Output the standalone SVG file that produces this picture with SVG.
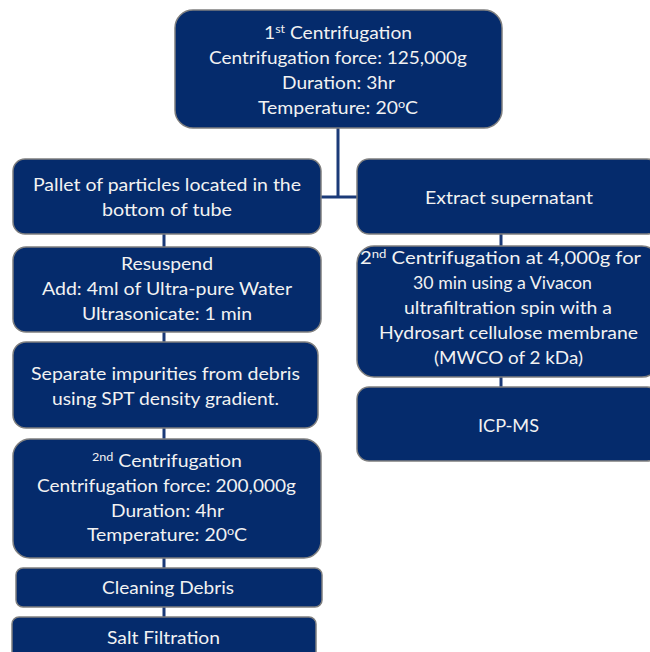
<svg xmlns="http://www.w3.org/2000/svg" width="650" height="652" viewBox="0 0 650 652">
<style>
.box{fill:#052B6C;stroke:#7F7F7F;stroke-width:1.5}
.t{font-family:Lato,"Liberation Sans",sans-serif;font-size:17px;fill:#F2F2F2;text-anchor:middle}
.sup{font-size:11px}
.c{stroke:#1B3A78;stroke-width:3;fill:none}
</style>
<rect width="650" height="652" fill="#FFFFFF"/>
<g id="connectors">
<path class="c" d="M338,128 V197 M321,197 H357"/>
<path class="c" d="M164,234 V247 M164,332 V342 M164,428 V439 M164,558 V568 M164,607 V617"/>
<path class="c" d="M501,234 V246 M501,377 V387"/>
</g>
<g id="n1">
<rect class="box" x="175" y="10" width="327" height="118" rx="18"/>
<text class="t" x="338" y="39" textLength="148" lengthAdjust="spacingAndGlyphs">1<tspan class="sup" dy="-6">st</tspan><tspan dy="6"> Centrifugation</tspan></text>
<text class="t" x="338" y="64" textLength="258" lengthAdjust="spacingAndGlyphs">Centrifugation force: 125,000g</text>
<text class="t" x="338.5" y="89" textLength="113" lengthAdjust="spacingAndGlyphs">Duration: 3hr</text>
<text class="t" x="338" y="114" textLength="160" lengthAdjust="spacingAndGlyphs">Temperature: 20<tspan class="sup" dy="-6">o</tspan><tspan dy="6">C</tspan></text>
</g>
<g id="n2">
<rect class="box" x="13" y="159" width="308" height="75" rx="12"/>
<text class="t" x="167" y="191" textLength="268" lengthAdjust="spacingAndGlyphs">Pallet of particles located in the</text>
<text class="t" x="167" y="216" textLength="130" lengthAdjust="spacingAndGlyphs">bottom of tube</text>
</g>
<g id="n3">
<rect class="box" x="13" y="247" width="308" height="85" rx="13"/>
<text class="t" x="167" y="270" textLength="92" lengthAdjust="spacingAndGlyphs">Resuspend</text>
<text class="t" x="167" y="295" textLength="250" lengthAdjust="spacingAndGlyphs">Add: 4ml of Ultra-pure Water</text>
<text class="t" x="167" y="320" textLength="170" lengthAdjust="spacingAndGlyphs">Ultrasonicate: 1 min</text>
</g>
<g id="n4">
<rect class="box" x="13" y="342" width="305" height="86" rx="13"/>
<text class="t" x="165.5" y="380" textLength="269" lengthAdjust="spacingAndGlyphs">Separate impurities from debris</text>
<text class="t" x="165.5" y="405" textLength="227" lengthAdjust="spacingAndGlyphs">using SPT density gradient.</text>
</g>
<g id="n5">
<rect class="box" x="13" y="439" width="308" height="119" rx="17"/>
<text class="t" x="167" y="467" textLength="150" lengthAdjust="spacingAndGlyphs"><tspan class="sup" dy="-6">2nd</tspan><tspan dy="6"> Centrifugation</tspan></text>
<text class="t" x="166.5" y="492" textLength="259" lengthAdjust="spacingAndGlyphs">Centrifugation force: 200,000g</text>
<text class="t" x="167.5" y="517" textLength="113" lengthAdjust="spacingAndGlyphs">Duration: 4hr</text>
<text class="t" x="167" y="541" textLength="160" lengthAdjust="spacingAndGlyphs">Temperature: 20<tspan class="sup" dy="-6">o</tspan><tspan dy="6">C</tspan></text>
</g>
<g id="n6">
<rect class="box" x="16" y="568" width="306" height="39" rx="7"/>
<text class="t" x="168" y="594" textLength="132" lengthAdjust="spacingAndGlyphs">Cleaning Debris</text>
</g>
<g id="n7">
<rect class="box" x="12" y="617" width="304" height="45" rx="7"/>
<text class="t" x="163.5" y="644" textLength="113" lengthAdjust="spacingAndGlyphs">Salt Filtration</text>
</g>
<g id="n8">
<rect class="box" x="357" y="159" width="302" height="75" rx="12"/>
<text class="t" x="509" y="204" textLength="168" lengthAdjust="spacingAndGlyphs">Extract supernatant</text>
</g>
<g id="n9">
<rect class="box" x="357" y="246" width="302" height="131" rx="17"/>
<text class="t" x="500.5" y="264" textLength="281" lengthAdjust="spacingAndGlyphs">2<tspan class="sup" dy="-6">nd</tspan><tspan dy="6"> Centrifugation  at 4,000g for</tspan></text>
<text class="t" x="502.5" y="289" textLength="179" lengthAdjust="spacingAndGlyphs">30 min using a Vivacon</text>
<text class="t" x="508" y="314" textLength="208" lengthAdjust="spacingAndGlyphs">ultrafiltration spin with a</text>
<text class="t" x="508.5" y="339" textLength="259" lengthAdjust="spacingAndGlyphs">Hydrosart cellulose membrane</text>
<text class="t" x="508.5" y="364" textLength="149" lengthAdjust="spacingAndGlyphs">(MWCO of 2 kDa)</text>
</g>
<g id="n10">
<rect class="box" x="357" y="387" width="302" height="74" rx="12"/>
<text class="t" x="508.5" y="432" textLength="61" lengthAdjust="spacingAndGlyphs">ICP-MS</text>
</g>
</svg>
